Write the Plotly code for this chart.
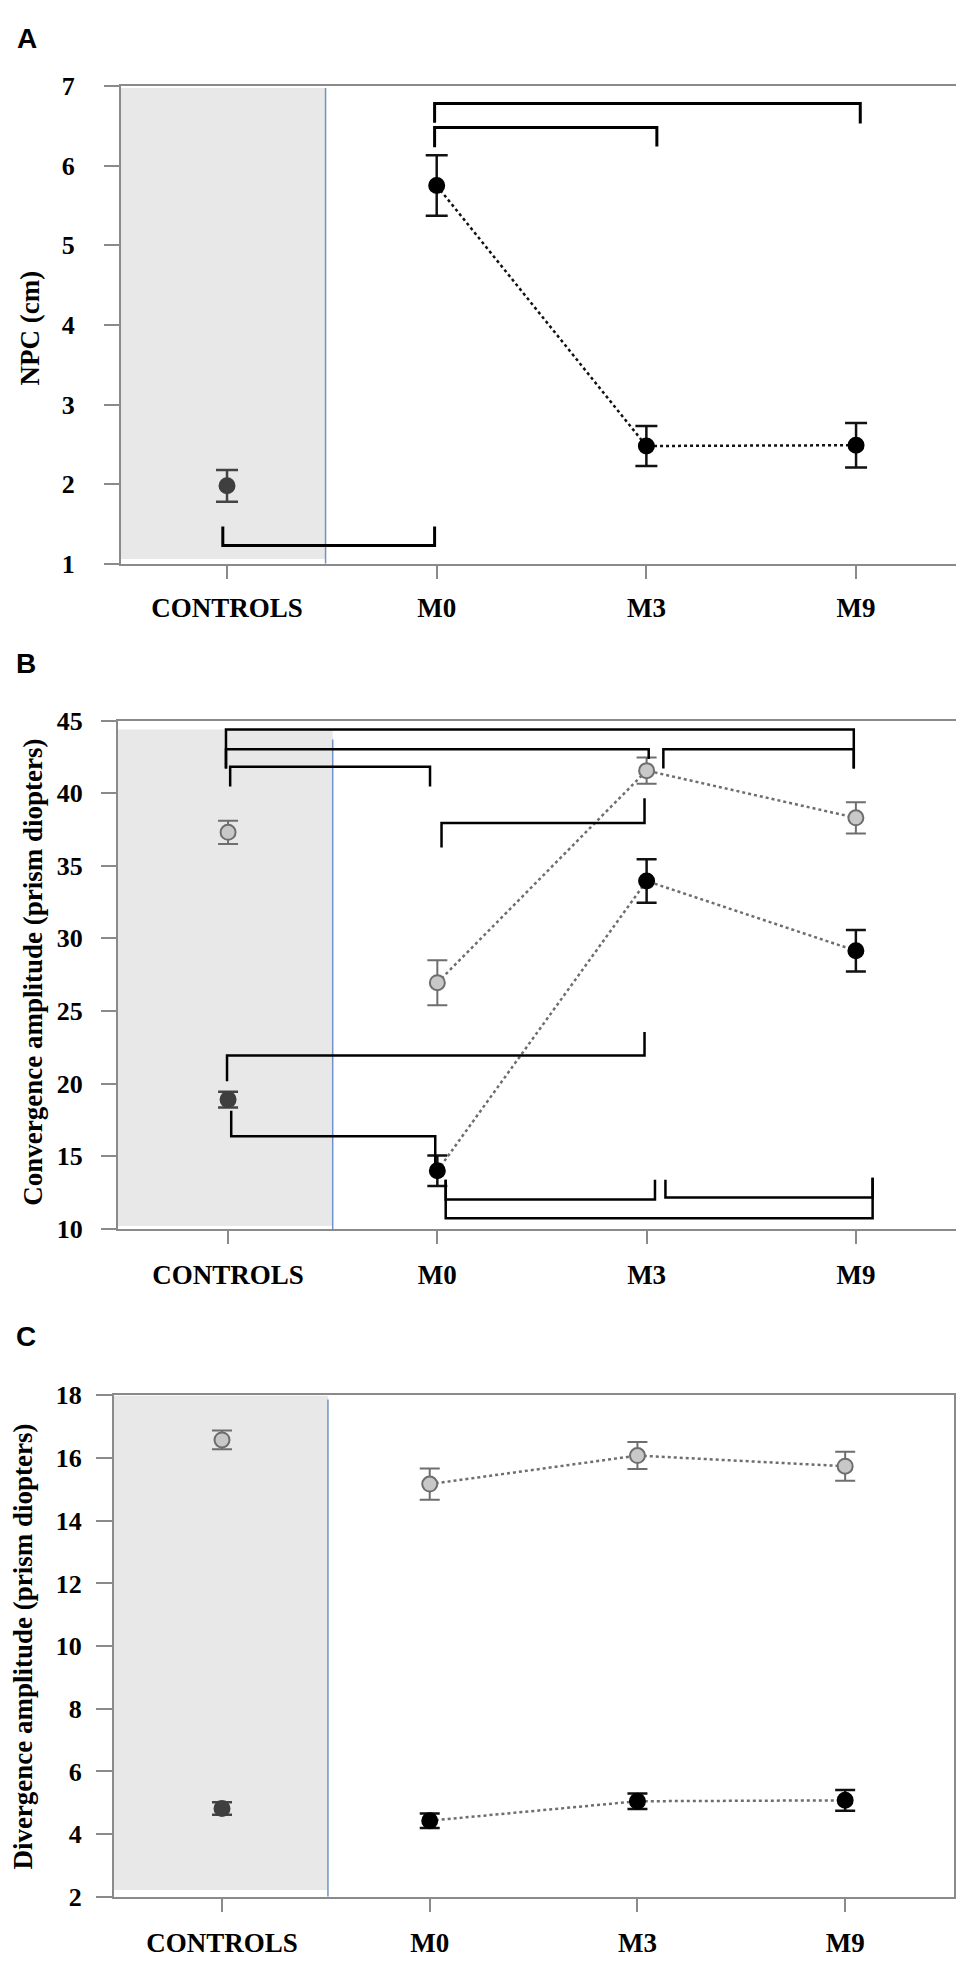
import plotly.graph_objects as go

# ---------------- data ----------------
categories = ["CONTROLS", "M0", "M3", "M9"]

# Panel A: NPC (cm)
npc_mean = [1.98, 5.75, 2.48, 2.49]
npc_err = [0.20, 0.38, 0.25, 0.28]

# Panel B: convergence amplitude (prism diopters)
conv_gray_mean = [37.3, 26.95, 41.55, 38.3]
conv_gray_err = [0.80, 1.55, 0.90, 1.08]
conv_black_mean = [18.9, 14.0, 33.95, 29.15]
conv_black_err = [0.55, 1.05, 1.50, 1.43]

# Panel C: divergence amplitude (prism diopters)
div_gray_mean = [16.58, 15.17, 16.08, 15.74]
div_gray_err = [0.30, 0.50, 0.43, 0.46]
div_black_mean = [4.82, 4.43, 5.05, 5.08]
div_black_err = [0.20, 0.23, 0.25, 0.33]

y_ticks_a = [1, 2, 3, 4, 5, 6, 7]
y_ticks_b = [10, 15, 20, 25, 30, 35, 40, 45]
y_ticks_c = [2, 4, 6, 8, 10, 12, 14, 16, 18]

# significance brackets: (x_left, x_right, y_horizontal, y_left_end, y_right_end)
brackets_a = [
    (-0.02, 0.99, 1.23, 1.47, 1.47),
    (0.99, 3.02, 6.78, 6.54, 6.53),
    (0.99, 2.05, 6.48, 6.23, 6.24),
]
brackets_b = [
    (-0.01, 2.99, 44.39, 41.7, 41.7),
    (-0.01, 2.01, 43.03, 41.7, 42.35),
    (0.01, 0.965, 41.81, 40.45, 40.45),
    (2.08, 2.99, 43.03, 41.7, 41.7),
    (1.02, 1.99, 37.94, 36.25, 39.64),
    (-0.005, 1.99, 21.93, 20.17, 23.56),
    (0.015, 0.99, 16.37, 18.13, 14.3),
    (1.04, 2.04, 12.03, 13.39, 13.39),
    (2.09, 3.08, 12.16, 13.39, 13.52),
    (1.04, 3.08, 10.74, 13.39, 13.52),
]

W, H = 964, 1961
FONT = "Liberation Serif, Times New Roman, serif"
AXCOL = "#8a8a8a"
BLUE = "#6f93c8"
SHADE = "#e8e8e8"


def fx(p):
    return p / W


def fy(p):
    return 1 - p / H


xpos = list(range(len(categories)))

fig = go.Figure()

panels = [
    dict(n="", xdom=(113, 955), ydom=(550, 65), xr=(-0.5056, 3.51), yr=(1, 7),
         yt=y_ticks_a, shade_x=0.47, shade_y=(1.06, 6.975), blue_y=(1.0, 6.975),
         ystand=24, ylen=15, xstand=6),
    dict(n="2", xdom=(110, 959), ydom=(1225, 709), xr=(-0.526, 3.531), yr=(10, 45),
         yt=y_ticks_b, shade_x=0.50, shade_y=(10.2, 44.39), blue_y=(10.0, 43.7),
         ystand=13, ylen=15, xstand=8),
    dict(n="3", xdom=(106, 946), ydom=(1903, 1394), xr=(-0.52, 3.524), yr=(2, 18),
         yt=y_ticks_c, shade_x=0.51, shade_y=(2.22, 18.0), blue_y=(2.0, 17.87),
         ystand=9, ylen=16, xstand=8),
]

for p in panels:
    n = p["n"]
    fig.update_layout(**{
        "xaxis" + n: dict(
            domain=[fx(p["xdom"][0]), fx(p["xdom"][1])],
            range=list(p["xr"]), anchor="y" + n,
            tickmode="array", tickvals=xpos, ticktext=categories,
            showline=True, mirror=True, linecolor=AXCOL, linewidth=2,
            ticks="outside", ticklen=13, tickwidth=2, tickcolor=AXCOL,
            showgrid=False, zeroline=False,
            tickfont=dict(family=FONT, size=27, color="black", weight="bold"),
            ticklabelstandoff=p["xstand"],
        ),
        "yaxis" + n: dict(
            domain=[fy(p["ydom"][0]), fy(p["ydom"][1])],
            range=list(p["yr"]), anchor="x" + n,
            tickmode="array", tickvals=p["yt"],
            showline=True, mirror=True, linecolor=AXCOL, linewidth=2,
            ticks="outside", ticklen=p["ylen"], tickwidth=2, tickcolor=AXCOL,
            showgrid=False, zeroline=False,
            tickfont=dict(family=FONT, size=26, color="black", weight="bold"),
            ticklabelstandoff=p["ystand"],
        ),
    })
    xr = "x" + n
    yr = "y" + n
    fig.add_shape(type="rect", xref=xr, yref=yr, x0=p["xr"][0], x1=p["shade_x"],
                  y0=p["shade_y"][0], y1=p["shade_y"][1], fillcolor=SHADE,
                  line=dict(width=0), layer="below")
    fig.add_shape(type="line", xref=xr, yref=yr, x0=p["shade_x"], x1=p["shade_x"],
                  y0=p["blue_y"][0], y1=p["blue_y"][1],
                  line=dict(color=BLUE, width=1.5), layer="below")


def bracket(xa, ya, b, width=2.5):
    xl, xr_, yh, yl, yr_ = b
    fig.add_trace(go.Scatter(x=[xl, xl, xr_, xr_], y=[yl, yh, yh, yr_], mode="lines",
                             line=dict(color="black", width=width), xaxis=xa, yaxis=ya,
                             hoverinfo="skip", showlegend=False))


def series(xa, ya, mean, err, fill, edge, ecolor, ctrl_fill, ctrl_edge, ctrl_ecolor,
           lcolor, size=15, ewidth=2.5, cap=10):
    # control group (not connected)
    fig.add_trace(go.Scatter(
        x=xpos[:1], y=mean[:1], mode="markers", xaxis=xa, yaxis=ya, showlegend=False,
        marker=dict(size=size, color=ctrl_fill, line=dict(color=ctrl_edge, width=2)),
        error_y=dict(type="data", array=err[:1], color=ctrl_ecolor, thickness=ewidth, width=cap)))
    # patients over time
    fig.add_trace(go.Scatter(
        x=xpos[1:], y=mean[1:], mode="lines+markers", xaxis=xa, yaxis=ya, showlegend=False,
        line=dict(color=lcolor, width=2.5, dash="dot"),
        marker=dict(size=size, color=fill, line=dict(color=edge, width=2)),
        error_y=dict(type="data", array=err[1:], color=ecolor, thickness=ewidth, width=cap)))


# Panel A
series("x", "y", npc_mean, npc_err, "black", "black", "#111111",
       "#3f3f3f", "#3f3f3f", "#444444", "#111111", cap=11)
for b in brackets_a:
    bracket("x", "y", b, width=3)

# Panel B
series("x2", "y2", conv_gray_mean, conv_gray_err, "#c8c8c8", "#6e6e6e", "#6e6e6e",
       "#c8c8c8", "#6e6e6e", "#6e6e6e", "#6e6e6e", ewidth=2)
series("x2", "y2", conv_black_mean, conv_black_err, "black", "black", "#111111",
       "#3f3f3f", "#3f3f3f", "#444444", "#6e6e6e")
for b in brackets_b:
    bracket("x2", "y2", b, width=2.5)

# Panel C
series("x3", "y3", div_gray_mean, div_gray_err, "#c8c8c8", "#6e6e6e", "#6e6e6e",
       "#c8c8c8", "#6e6e6e", "#6e6e6e", "#6e6e6e", ewidth=2)
series("x3", "y3", div_black_mean, div_black_err, "black", "black", "#111111",
       "#3f3f3f", "#3f3f3f", "#444444", "#6e6e6e")

annotations = []
for letter, (x, y) in zip(["A", "B", "C"], [(19, 17), (18, 651), (18, 1334)]):
    annotations.append(dict(text=letter, x=fx(x), y=fy(y), xref="paper", yref="paper",
                            xanchor="center", yanchor="middle", showarrow=False,
                            font=dict(family="Liberation Sans, Arial", size=28,
                                      color="black", weight="bold")))
for title, (x, y) in zip(["NPC (cm)", "Convergence amplitude (prism diopters)",
                          "Divergence amplitude (prism diopters)"],
                         [(22, 311), (25, 965), (15, 1649)]):
    annotations.append(dict(text=title, x=fx(x), y=fy(y), xref="paper", yref="paper",
                            xanchor="center", yanchor="middle", showarrow=False,
                            textangle=-90,
                            font=dict(family=FONT, size=27, color="black", weight="bold")))

fig.update_layout(width=W, height=H, margin=dict(l=0, r=0, t=0, b=0),
                  paper_bgcolor="white", plot_bgcolor="white",
                  annotations=annotations, showlegend=False)

fig.write_html("out.html")
